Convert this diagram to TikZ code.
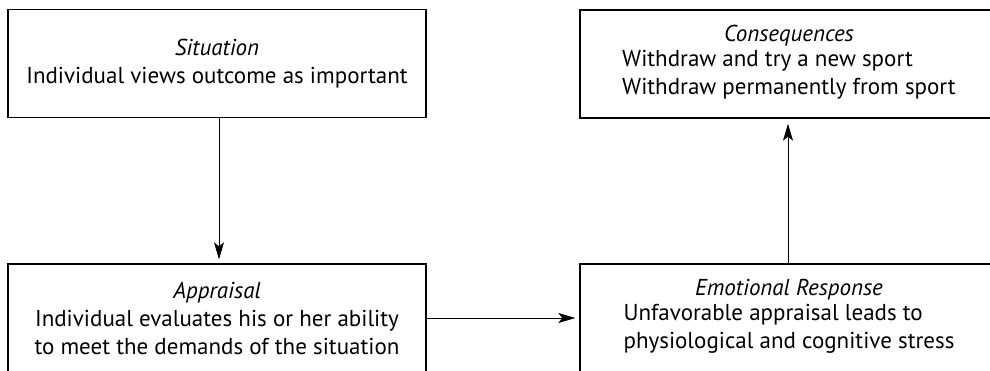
\documentclass[tikz,border=0pt]{standalone}
\usepackage{fontspec}
\setmainfont{PT Sans}
\usepackage{tikz}
\usetikzlibrary{arrows.meta}

\tikzset{
    stagebox/.style = {draw = black, line width = 1.3pt, minimum width = 418pt, minimum height = 108pt, inner sep = 0pt, align = center, font = \fontsize{23}{28}\selectfont},
    flow/.style = {black, line width = 0.8pt, -{Stealth[length = 17pt, width = 10pt, inset = 4pt]}}
}

\begin{document}
\begin{tikzpicture}[x = 1pt, y = -1pt]
            \useasboundingbox (0, 0) rectangle (990, 370);
            \clip (0, 0) rectangle (990, 370);
            
            \node[stagebox] (situation) at (217, 63.5) {\textit{Situation}\\ Individual views outcome as important};
            \node[stagebox] (consequences) at (789, 64) {\textit{Consequences}\\ \begin{tabular}{@{}l@{}}Withdraw and try a new sport\\ Withdraw permanently from sport\end{tabular}};
            \node[stagebox] (appraisal) at (217, 318) {\textit{Appraisal}\\ Individual evaluates his or her ability\\ to meet the demands of the situation};
            \node[stagebox] (response) at (789, 318) {\textit{Emotional Response}\\ \begin{tabular}{@{}l@{}}Unfavorable appraisal leads to\\ physiological and cognitive stress\end{tabular}};
            
            % x positions of the two vertical links
            \coordinate (downlink) at (219, 0);
            \coordinate (uplink) at (788, 0);
            
            \draw[flow, shorten > = 4pt](situation.south -| downlink) -- (appraisal.north -| downlink);
            \draw[flow, shorten > = 4pt](appraisal.east) -- (response.west);
            \draw[flow, shorten > = 5pt](response.north -| uplink) -- (consequences.south -| uplink);
            
        \end{tikzpicture}
\end{document}
